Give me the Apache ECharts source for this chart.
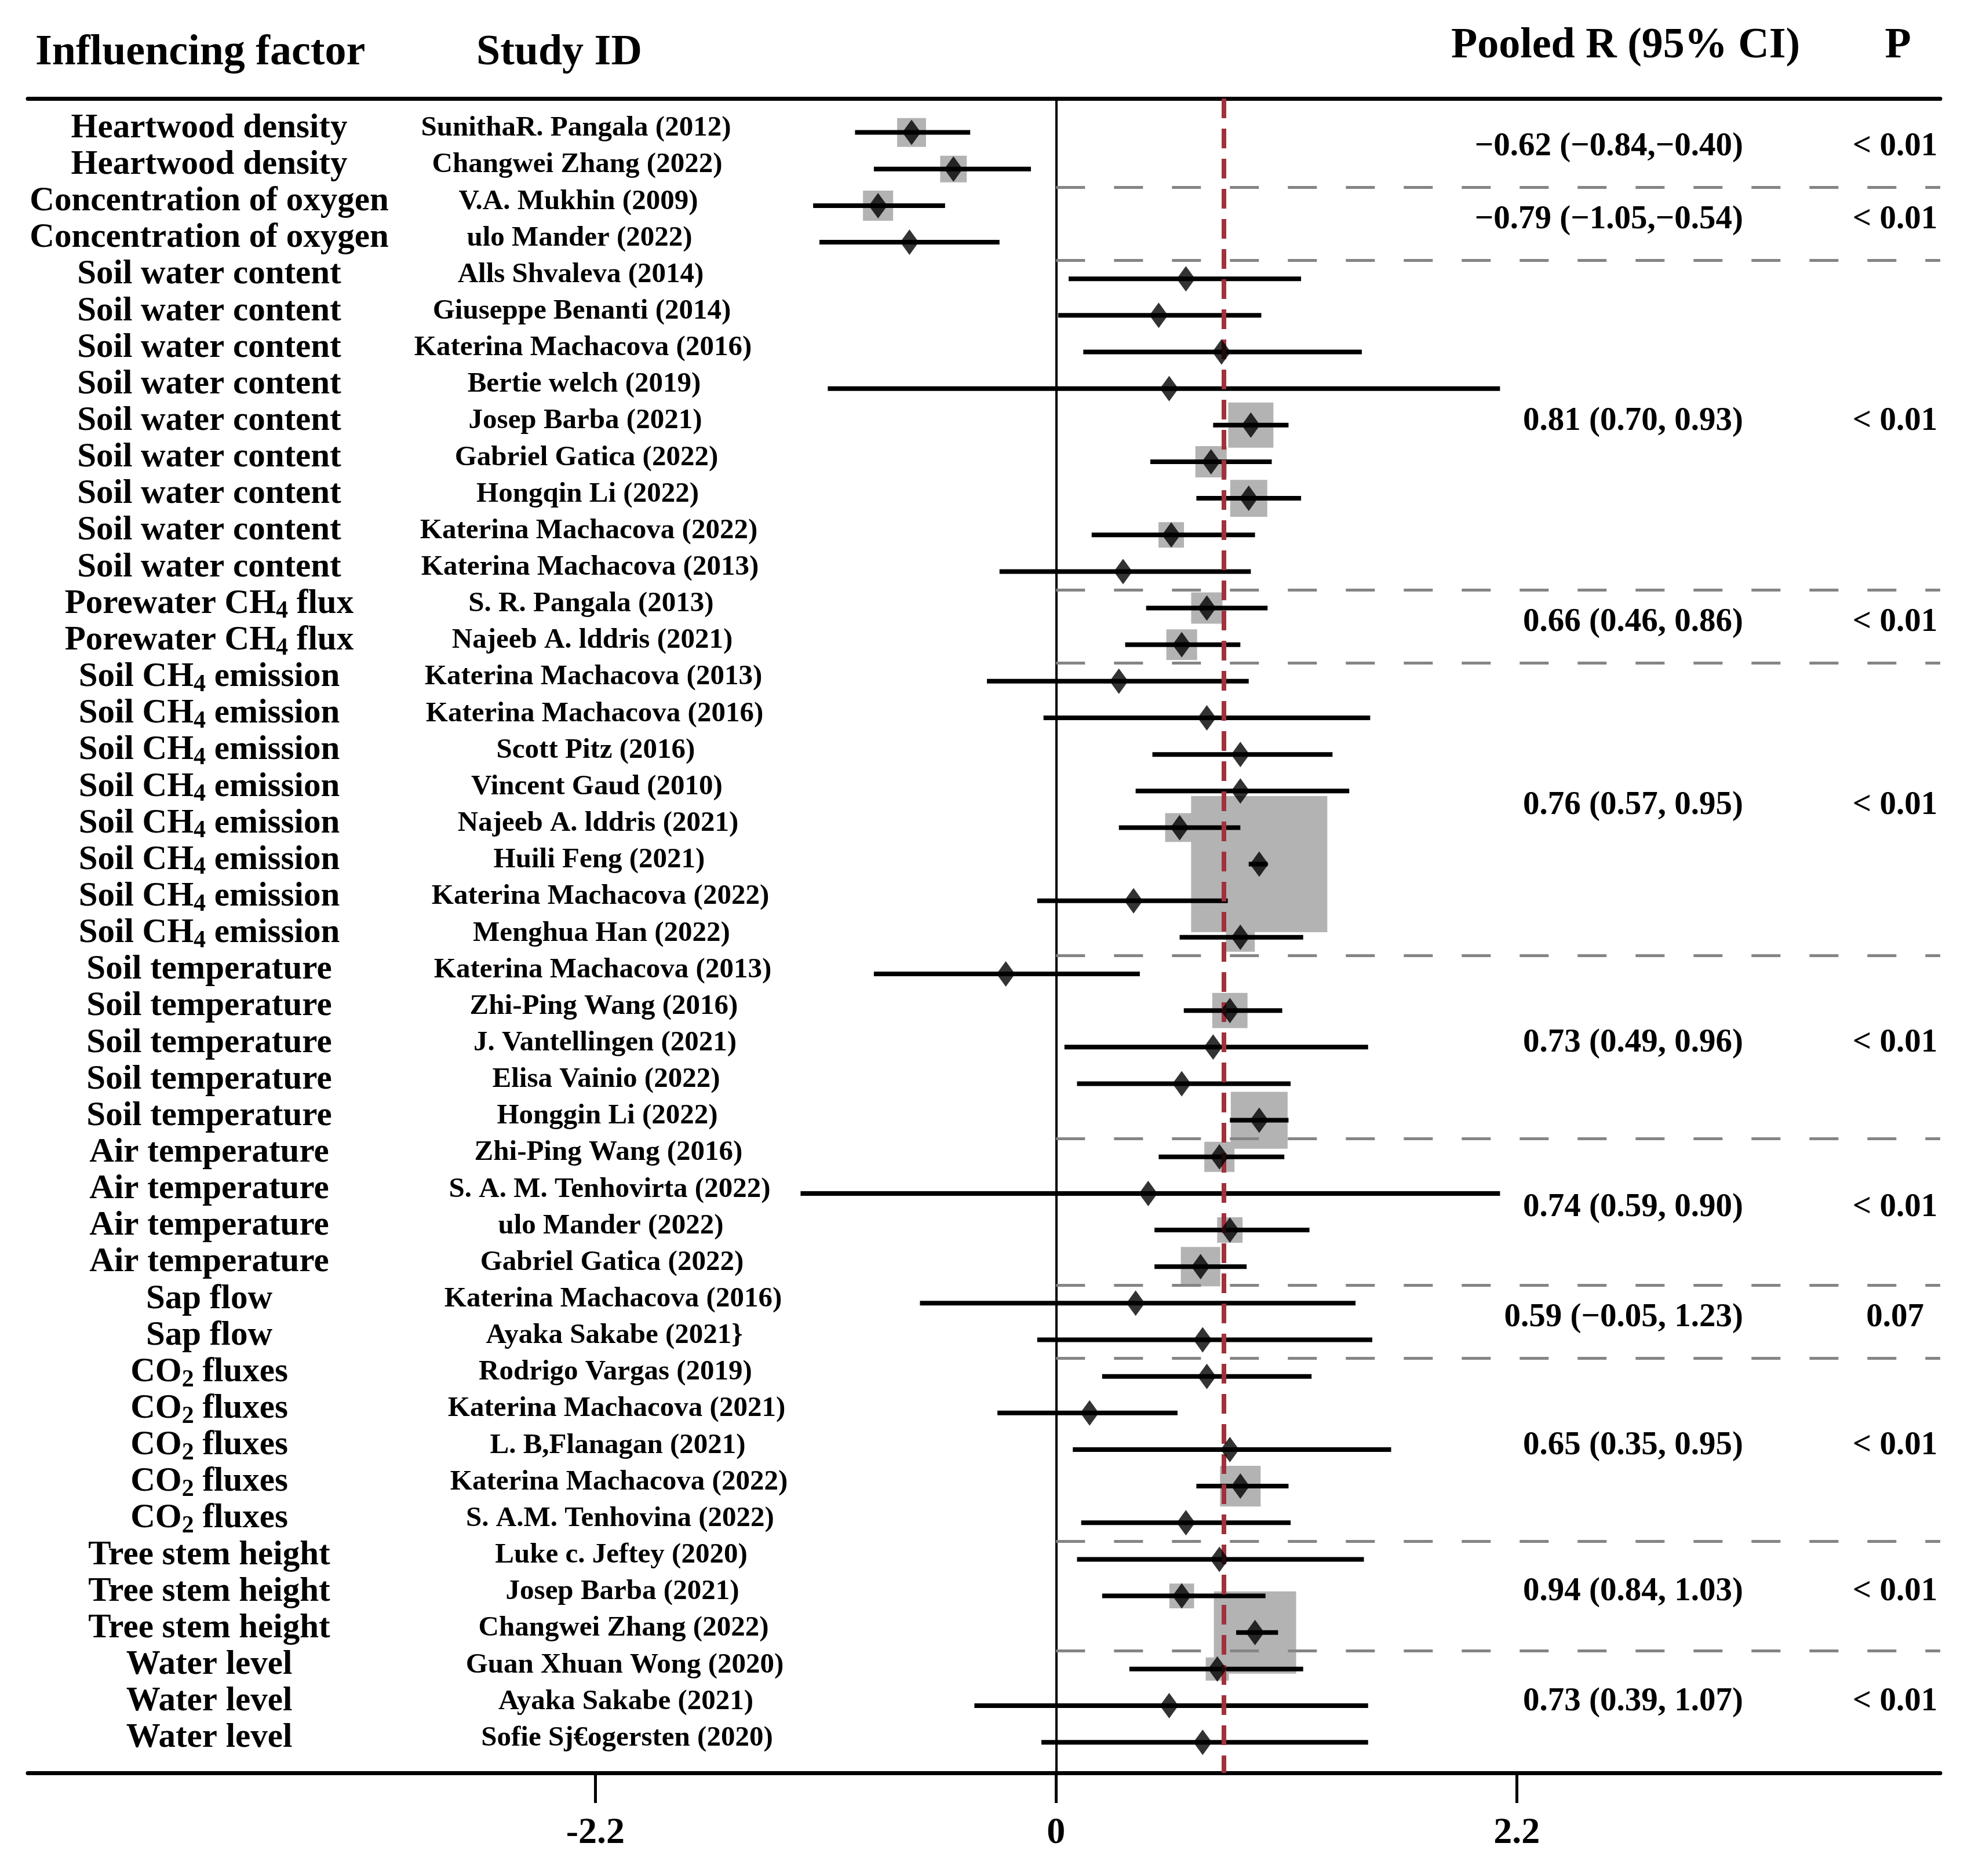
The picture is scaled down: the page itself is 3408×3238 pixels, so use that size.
<!DOCTYPE html>
<html>
<head>
<meta charset="utf-8">
<script src="https://cdn.jsdelivr.net/npm/echarts@6/dist/echarts.min.js"></script>
<style>
html,body{margin:0;padding:0;background:#ffffff;}
#chart{width:3408px;height:3238px;}
</style>
</head>
<body>
<div id="chart"></div>
<script>
// ---------------- DATA ----------------
const factors = [
  'Heartwood density','Heartwood density',
  'Concentration of oxygen','Concentration of oxygen',
  'Soil water content','Soil water content','Soil water content','Soil water content','Soil water content',
  'Soil water content','Soil water content','Soil water content','Soil water content',
  'Porewater CH\u2084 flux','Porewater CH\u2084 flux',
  'Soil CH\u2084 emission','Soil CH\u2084 emission','Soil CH\u2084 emission','Soil CH\u2084 emission',
  'Soil CH\u2084 emission','Soil CH\u2084 emission','Soil CH\u2084 emission','Soil CH\u2084 emission',
  'Soil temperature','Soil temperature','Soil temperature','Soil temperature','Soil temperature',
  'Air temperature','Air temperature','Air temperature','Air temperature',
  'Sap flow','Sap flow',
  'CO\u2082 fluxes','CO\u2082 fluxes','CO\u2082 fluxes','CO\u2082 fluxes','CO\u2082 fluxes',
  'Tree stem height','Tree stem height','Tree stem height',
  'Water level','Water level','Water level'
];
const studies = [
  'SunithaR. Pangala (2012)','Changwei Zhang (2022)',
  'V.A. Mukhin (2009)','ulo Mander (2022)',
  'Alls Shvaleva (2014)','Giuseppe Benanti (2014)','Katerina Machacova (2016)','Bertie welch (2019)',
  'Josep Barba (2021)','Gabriel Gatica (2022)','Hongqin Li (2022)','Katerina Machacova (2022)','Katerina Machacova (2013)',
  'S. R. Pangala (2013)','Najeeb A. lddris (2021)',
  'Katerina Machacova (2013)','Katerina Machacova (2016)','Scott Pitz (2016)','Vincent Gaud (2010)',
  'Najeeb A. lddris (2021)','Huili Feng (2021)','Katerina Machacova (2022)','Menghua Han (2022)',
  'Katerina Machacova (2013)','Zhi-Ping Wang (2016)','J. Vantellingen (2021)','Elisa Vainio (2022)','Honggin Li (2022)',
  'Zhi-Ping Wang (2016)','S. A. M. Tenhovirta (2022)','ulo Mander (2022)','Gabriel Gatica (2022)',
  'Katerina Machacova (2016)','Ayaka Sakabe (2021}',
  'Rodrigo Vargas (2019)','Katerina Machacova (2021)','L. B,Flanagan (2021)','Katerina Machacova (2022)','S. A.M. Tenhovina (2022)',
  'Luke c. Jeftey (2020)','Josep Barba (2021)','Changwei Zhang (2022)',
  'Guan Xhuan Wong (2020)','Ayaka Sakabe (2021)','Sofie Sj\u20acogersten (2020)'
];
const estimates = [-0.69,-0.49,-0.85,-0.70,0.62,0.49,0.79,0.54,0.93,0.74,0.92,0.55,0.32,0.72,0.60,0.30,0.72,0.88,0.88,0.59,0.97,0.37,0.88,-0.24,0.83,0.75,0.60,0.97,0.78,0.44,0.83,0.69,0.38,0.70,0.72,0.16,0.83,0.88,0.62,0.78,0.60,0.95,0.77,0.54,0.70];
const lowerCI  = [-0.96,-0.87,-1.16,-1.13,0.06,0.01,0.13,-1.09,0.75,0.45,0.67,0.17,-0.27,0.43,0.33,-0.33,-0.06,0.46,0.38,0.30,0.92,-0.09,0.59,-0.87,0.61,0.04,0.10,0.83,0.49,-1.22,0.47,0.47,-0.65,-0.09,0.22,-0.28,0.08,0.67,0.12,0.10,0.22,0.86,0.35,-0.39,-0.07];
const upperCI  = [-0.41,-0.12,-0.53,-0.27,1.17,0.98,1.46,2.12,1.11,1.03,1.17,0.95,0.93,1.01,0.88,0.92,1.50,1.32,1.40,0.88,1.01,0.82,1.18,0.40,1.08,1.49,1.12,1.11,1.09,2.12,1.21,0.91,1.43,1.51,1.22,0.58,1.60,1.11,1.12,1.47,1.00,1.06,1.18,1.49,1.49];
// relative study weights (grey squares, area ~ weight); 0 = no visible square
const weights  = [4.5,3.8,4.9,0,0,0,0,0,11.0,5.3,7.4,3.5,0,5.3,5.1,0,0,0,0,4.5,100,0,4.5,0,6.7,0,0,17.4,4.9,0,3.5,8.4,0,0,0,0,0,8.9,0,0,3.3,36.5,2.9,0,0];

const pooledR    = [-0.62,-0.79,0.81,0.66,0.76,0.73,0.74,0.59,0.65,0.94,0.73];
const pooledLow  = [-0.84,-1.05,0.70,0.46,0.57,0.49,0.59,-0.05,0.35,0.84,0.39];
const pooledHigh = [-0.40,-0.54,0.93,0.86,0.95,0.96,0.90,1.23,0.95,1.03,1.07];
const pLabels    = ['< 0.01','< 0.01','< 0.01','< 0.01','< 0.01','< 0.01','< 0.01','0.07','< 0.01','< 0.01','< 0.01'];
const overallR = 0.80;
const xTicks = [-2.2, 0, 2.2];
const headers = { factor: 'Influencing factor', study: 'Study ID', pooled: 'Pooled R (95% CI)', p: 'P' };

// ---------------- DERIVED ----------------
const groups = [];
factors.forEach((f, i) => {
  if (!groups.length || groups[groups.length - 1].name !== f) groups.push({ name: f, start: i, end: i });
  else groups[groups.length - 1].end = i;
});
const separators = groups.slice(0, -1).map(g => g.end + 0.5);
const fmt = v => (v < 0 ? '\u2212' : '') + Math.abs(v).toFixed(2);
const pooledText = pooledR.map((r, k) => {
  const sep = pooledHigh[k] < 0 ? ',' : ', ';
  return fmt(r) + ' (' + fmt(pooledLow[k]) + sep + fmt(pooledHigh[k]) + ')';
});
// turn unicode subscript digits into rich-text subscript tokens
const SUBS = '\u2080\u2081\u2082\u2083\u2084\u2085\u2086\u2087\u2088\u2089';
function toRich(s) {
  let out = '', cur = '';
  for (const ch of s) {
    const k = SUBS.indexOf(ch);
    if (k >= 0) { out += '{n|' + cur + '}{s|' + k + '}'; cur = ''; }
    else cur += ch;
  }
  if (cur) out += '{n|' + cur + '}';
  return out;
}

// ---------------- LAYOUT / STYLE ----------------
const X_MIN = -4.91, X_MAX = 4.222;
const Y_MIN = -0.928, Y_MAX = 44.837;
const SERIF = '"Liberation Serif", "DejaVu Serif", "Times New Roman", serif';
const FACTOR_X = 361;
const STUDY_X0 = 994, STUDY_DRIFT = 2.0;
const POOLED_RIGHT = 3008;
const P_X = 3270;
const TEXT_DY = -7;

function textSeries(name, items, yOf, xOf, text, fontSize, align, rich) {
  return {
    type: 'custom', name: name, z: 10, silent: true, clip: false,
    data: items.map((it, k) => [0, yOf(it, k)]),
    encode: { x: 0, y: 1 },
    renderItem: (params, api) => {
      const k = params.dataIndex;
      const y = api.coord([0, api.value(1)])[1];
      const raw = text(items[k], k);
      const style = rich
        ? { text: toRich(raw), align: align, verticalAlign: 'middle',
            rich: {
              n: { fontFamily: SERIF, fontWeight: 'bold', fontSize: fontSize, lineHeight: Math.round(fontSize * 1.15), fill: '#000', verticalAlign: 'middle' },
              s: { fontFamily: SERIF, fontWeight: 'bold', fontSize: Math.round(fontSize * 0.72), lineHeight: Math.round(fontSize * 0.72), fill: '#000', verticalAlign: 'bottom' }
            } }
        : { text: raw, font: 'bold ' + fontSize + 'px ' + SERIF, fill: '#000', align: align, verticalAlign: 'middle' };
      return { type: 'text', x: xOf(k), y: y + TEXT_DY, style: style };
    }
  };
}

const chart = echarts.init(document.getElementById('chart'), null, { renderer: 'canvas' });
const option = {
  backgroundColor: '#ffffff',
  animation: false,
  grid: { left: 48, right: 60, top: 170, bottom: 178, containLabel: false, outerBoundsMode: 'none' },
  xAxis: [
    {
      type: 'value', position: 'bottom', min: X_MIN, max: X_MAX,
      axisLine: { show: true, onZero: false, lineStyle: { color: '#000', width: 7 } },
      axisTick: { show: true, customValues: xTicks, length: 52, inside: false, lineStyle: { color: '#000', width: 5 } },
      axisLabel: { show: true, customValues: xTicks, formatter: v => String(v), margin: 72,
        fontFamily: SERIF, fontWeight: 'bold', fontSize: 64, color: '#000' },
      splitLine: { show: false }
    },
    {
      type: 'value', position: 'top', min: X_MIN, max: X_MAX,
      axisLine: { show: true, onZero: false, lineStyle: { color: '#000', width: 7 } },
      axisTick: { show: false }, axisLabel: { show: false }, splitLine: { show: false }
    }
  ],
  yAxis: {
    type: 'value', inverse: true, min: Y_MIN, max: Y_MAX, show: false,
    splitLine: { show: false }
  },
  graphic: [
    { type: 'text', x: 61, y: 92, style: { text: headers.factor, font: 'bold 74px ' + SERIF, fill: '#000', align: 'left', verticalAlign: 'middle' } },
    { type: 'text', x: 822, y: 92, style: { text: headers.study, font: 'bold 74px ' + SERIF, fill: '#000', align: 'left', verticalAlign: 'middle' } },
    { type: 'text', x: 2504, y: 80, style: { text: headers.pooled, font: 'bold 74px ' + SERIF, fill: '#000', align: 'left', verticalAlign: 'middle' } },
    { type: 'text', x: 3275, y: 80, style: { text: headers.p, font: 'bold 74px ' + SERIF, fill: '#000', align: 'center', verticalAlign: 'middle' } }
  ],
  series: [
    {
      type: 'scatter', name: 'overall', z: 1, silent: true, symbolSize: 0,
      data: [[overallR, 0]],
      markLine: {
        silent: true, symbol: ['none', 'none'], label: { show: false }, animation: false,
        data: [{ xAxis: overallR, lineStyle: { color: '#a0323c', width: 8, type: [34, 18] } }]
      }
    },
    {
      type: 'scatter', name: 'weights', z: 2, silent: true, symbol: 'rect',
      data: estimates.map((e, i) => [e, i, weights[i]]).filter(d => d[2] > 0),
      symbolSize: v => 23.5 * Math.sqrt(v[2]),
      itemStyle: { color: '#b3b3b3', opacity: 1 }
    },
    {
      type: 'scatter', name: 'guides', z: 3, silent: true, symbolSize: 0,
      data: [[0, 0]],
      markLine: {
        silent: true, symbol: ['none', 'none'], label: { show: false }, animation: false,
        lineStyle: { color: '#858585', width: 5, type: [50, 50] },
        data: [
          { xAxis: 0, lineStyle: { color: '#000', width: 4, type: 'solid' } }
        ].concat(separators.map(b => [{ coord: [0, b] }, { coord: [X_MAX, b] }]))
      }
    },
    {
      type: 'custom', name: 'CI', z: 4, silent: true,
      data: estimates.map((e, i) => [lowerCI[i], upperCI[i], i]),
      encode: { x: [0, 1], y: 2 },
      renderItem: (params, api) => {
        const a = api.coord([api.value(0), api.value(2)]);
        const b = api.coord([api.value(1), api.value(2)]);
        return { type: 'line', shape: { x1: a[0], y1: a[1], x2: b[0], y2: b[1] },
          style: { stroke: '#000', lineWidth: 8 } };
      }
    },
    {
      type: 'scatter', name: 'estimate', z: 5, silent: true, symbol: 'diamond',
      symbolSize: [32, 44],
      data: estimates.map((e, i) => [e, i]),
      itemStyle: { color: '#000' }
    },
    textSeries('factorLabels', factors, (f, i) => i, () => FACTOR_X, f => f, 59, 'center', true),
    textSeries('studyLabels', studies, (s, i) => i, k => STUDY_X0 + STUDY_DRIFT * k, s => s, 49, 'center', false),
    textSeries('pooledLabels', groups, g => (g.start + g.end) / 2, () => POOLED_RIGHT, (g, k) => pooledText[k], 57, 'right', false),
    textSeries('pLabels', groups, g => (g.start + g.end) / 2, () => P_X, (g, k) => pLabels[k], 57, 'center', false)
  ]
};
chart.setOption(option);
</script>
</body>
</html>
